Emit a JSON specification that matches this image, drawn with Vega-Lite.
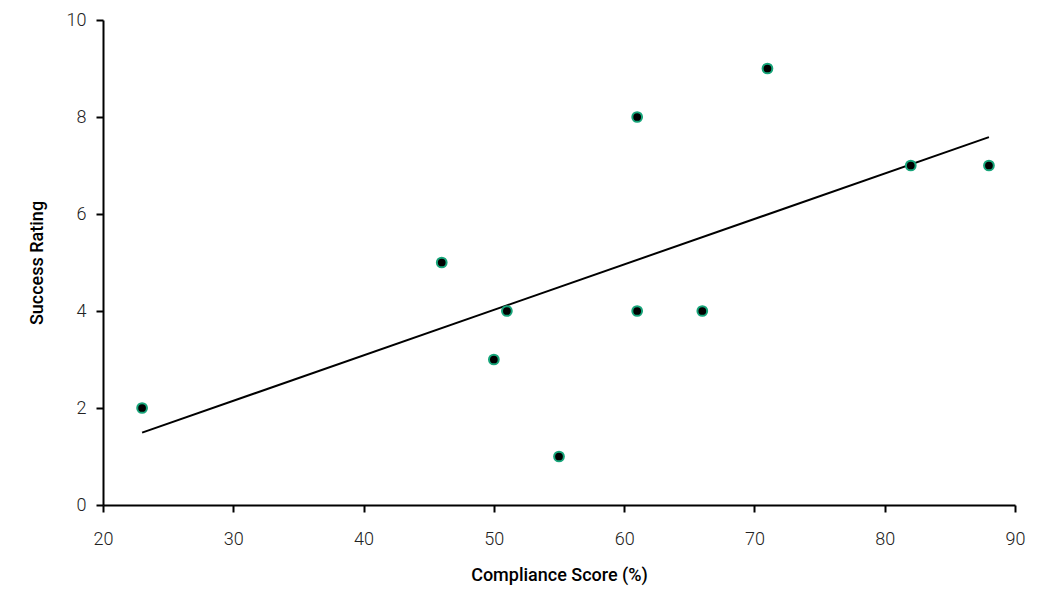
{
  "$schema": "https://vega.github.io/schema/vega-lite/v6.json",
  "width": 912,
  "height": 485,
  "autosize": "none",
  "padding": {"left": 103, "top": 20, "right": 43, "bottom": 84},
  "background": "white",
  "config": {
    "view": {"stroke": null},
    "font": "Roboto",
    "axis": {
      "domainColor": "black",
      "domainWidth": 2,
      "tickColor": "black",
      "tickWidth": 2,
      "tickSize": 7,
      "grid": false,
      "labelFlush": false,
      "labelFont": "Roboto",
      "labelFontSize": 18,
      "labelFontWeight": 300,
      "labelColor": "#222222",
      "titleFont": "Roboto",
      "titleFontSize": 18,
      "titleFontWeight": 500,
      "titleColor": "black"
    }
  },
  "data": {
    "values": [
      {"score": 23, "rating": 2},
      {"score": 46, "rating": 5},
      {"score": 50, "rating": 3},
      {"score": 51, "rating": 4},
      {"score": 55, "rating": 1},
      {"score": 61, "rating": 8},
      {"score": 61, "rating": 4},
      {"score": 66, "rating": 4},
      {"score": 71, "rating": 9},
      {"score": 82, "rating": 7},
      {"score": 88, "rating": 7}
    ]
  },
  "layer": [
    {
      "transform": [{"regression": "rating", "on": "score"}],
      "mark": {"type": "line", "color": "black", "strokeWidth": 2},
      "encoding": {
        "x": {"field": "score", "type": "quantitative"},
        "y": {"field": "rating", "type": "quantitative"}
      }
    },
    {
      "mark": {"type": "point", "filled": true, "fill": "black", "stroke": "#17a57a", "strokeWidth": 2, "size": 95, "opacity": 1},
      "encoding": {
        "x": {
          "field": "score", "type": "quantitative",
          "scale": {"domain": [20, 90], "nice": false, "zero": false},
          "axis": {"title": "Compliance Score (%)", "values": [20, 30, 40, 50, 60, 70, 80, 90], "labelPadding": 18, "titlePadding": 18}
        },
        "y": {
          "field": "rating", "type": "quantitative",
          "scale": {"domain": [0, 10], "nice": false},
          "axis": {"title": "Success Rating", "values": [0, 2, 4, 6, 8, 10], "labelPadding": 10, "titlePadding": 20}
        }
      }
    }
  ]
}
